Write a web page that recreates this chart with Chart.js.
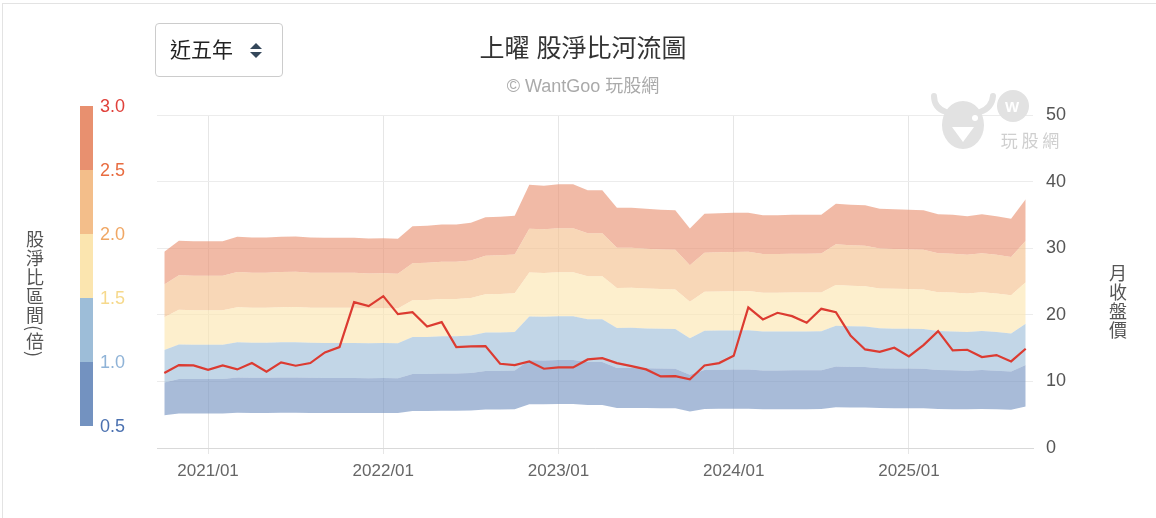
<!DOCTYPE html>
<html>
<head>
<meta charset="utf-8">
<script src="https://cdn.jsdelivr.net/npm/chart.js@4.4.1/dist/chart.umd.min.js"></script>
<style>
  body { margin: 0; background: #fff; font-family: "Liberation Sans", "Noto Sans CJK TC", sans-serif; }
  #wrap { position: relative; width: 1156px; height: 518px; overflow: hidden; }
  #frame { position: absolute; left: 2px; top: 3px; width: 1300px; height: 700px; border: 1px solid #e3e3e3; }
  #chart { position: absolute; left: 0; top: 0; }
  .title { position: absolute; left: 0; width: 1166px; text-align: center; }
  #t1 { top: 33px; font-size: 25px; line-height: 30px; color: #333; }
  #t2 { top: 76px; font-size: 18px; line-height: 20px; color: #aaa; }
  #range { position: absolute; left: 155px; top: 23px; width: 126px; height: 52px; border: 1px solid #ccc; border-radius: 4px; box-sizing: content-box; }
  #range span { position: absolute; left: 14px; top: 13px; font-size: 21px; line-height: 26px; color: #222; }
  .tri { position: absolute; left: 94px; width: 0; height: 0; border-left: 6px solid transparent; border-right: 6px solid transparent; }
  #up { top: 19px; border-bottom: 6px solid #35475a; }
  #down { top: 28px; border-top: 6px solid #35475a; }
  #bar { position: absolute; left: 80px; top: 106px; width: 13px; }
  #bar div { height: 64px; }
  .pbl { position: absolute; left: 100px; font-size: 18px; line-height: 20px; }
  .vlab { position: absolute; writing-mode: vertical-rl; font-size: 18px; color: #555; letter-spacing: 1px; font-family: "Noto Sans CJK TC", sans-serif; }
</style>
</head>
<body>
<div id="wrap">
  <div id="frame"></div>
  <canvas id="chart" width="1156" height="518"></canvas>
  <div class="title" id="t1">上曜 股淨比河流圖</div>
  <div class="title" id="t2">© WantGoo 玩股網</div>
  <div id="range"><span>近五年</span><div class="tri" id="up"></div><div class="tri" id="down"></div></div>
  <div id="bar"></div>
  <div id="legendLabels"></div>
  <div class="vlab" style="left:22px; top:230px;">股淨比區間(倍)</div>
  <div class="vlab" style="left:1105px; top:264px;">月收盤價</div>
</div>
<script>
// 月份 (2020/10 - 2025/09)
var months = [
  '2020/10','2020/11','2020/12',
  '2021/01','2021/02','2021/03','2021/04','2021/05','2021/06','2021/07','2021/08','2021/09','2021/10','2021/11','2021/12',
  '2022/01','2022/02','2022/03','2022/04','2022/05','2022/06','2022/07','2022/08','2022/09','2022/10','2022/11','2022/12',
  '2023/01','2023/02','2023/03','2023/04','2023/05','2023/06','2023/07','2023/08','2023/09','2023/10','2023/11','2023/12',
  '2024/01','2024/02','2024/03','2024/04','2024/05','2024/06','2024/07','2024/08','2024/09','2024/10','2024/11','2024/12',
  '2025/01','2025/02','2025/03','2025/04','2025/05','2025/06','2025/07','2025/08','2025/09'
];

// 月收盤價
var closePrice = [
  11.25, 12.45, 12.4, 11.75, 12.4, 11.8, 12.75, 11.45, 12.85, 12.35,
  12.75, 14.35, 15.15, 21.9, 21.3, 22.8, 20.1, 20.4, 18.25, 18.9,
  15.15, 15.25, 15.3, 12.65, 12.45, 13.0, 11.9, 12.1, 12.1, 13.3,
  13.5, 12.75, 12.3, 11.8, 10.75, 10.8, 10.3, 12.4, 12.75, 13.85,
  21.1, 19.3, 20.3, 19.8, 18.8, 20.9, 20.4, 16.9, 14.8, 14.45,
  15.05, 13.75, 15.45, 17.55, 14.65, 14.75, 13.65, 13.95, 13.0, 14.9
];

// 每股淨值
var bookValue = [
  9.82, 10.37, 10.35, 10.35, 10.35, 10.57, 10.53, 10.53, 10.57, 10.58,
  10.53, 10.52, 10.52, 10.52, 10.48, 10.5, 10.47, 11.1, 11.12, 11.18,
  11.18, 11.27, 11.55, 11.57, 11.62, 13.17, 13.13, 13.2, 13.2, 12.9,
  12.9, 12.02, 12.03, 11.97, 11.93, 11.9, 10.98, 11.73, 11.75, 11.77,
  11.78, 11.65, 11.65, 11.67, 11.67, 11.68, 12.23, 12.18, 12.15, 11.98,
  11.95, 11.93, 11.9, 11.7, 11.67, 11.6, 11.7, 11.6, 11.47, 12.45
];

// 股淨比倍數
var pbLevels = [0.5, 1.0, 1.5, 2.0, 2.5, 3.0];
var pbLabels = ['0.5', '1.0', '1.5', '2.0', '2.5', '3.0'];

var bandColors = ['#7392c0', '#9dbdd8', '#fbe5af', '#f3be8a', '#e8906f'];
var labelColors = ['#4b71b0', '#8fb3d7', '#f6d98c', '#f0a764', '#e86c40', '#e0403a'];
var FONT = '"Liberation Sans", "Noto Sans CJK TC", sans-serif';

function alpha(hex, a) {
  var n = parseInt(hex.slice(1), 16);
  return 'rgba(' + (n >> 16) + ',' + ((n >> 8) & 255) + ',' + (n & 255) + ',' + a + ')';
}

// legend bar on the left
var bar = document.getElementById('bar');
for (var i = bandColors.length - 1; i >= 0; i--) {
  var d = document.createElement('div');
  d.style.background = bandColors[i];
  bar.appendChild(d);
}
var ll = document.getElementById('legendLabels');
pbLabels.forEach(function (t, i) {
  var s = document.createElement('div');
  s.className = 'pbl';
  s.textContent = t;
  s.style.color = labelColors[i];
  s.style.top = (426 - i * 64 - 10) + 'px';
  ll.appendChild(s);
});

var datasets = pbLevels.map(function (m, i) {
  return {
    label: pbLabels[i] + '倍',
    data: bookValue.map(function (b) { return +(b * m).toFixed(2); }),
    borderWidth: 0,
    pointRadius: 0,
    fill: i === 0 ? false : '-1',
    backgroundColor: i === 0 ? 'transparent' : alpha(bandColors[i - 1], 0.62),
    order: 1
  };
});
datasets.push({
  label: '月收盤價',
  data: closePrice,
  borderColor: '#dc3b31',
  borderWidth: 2.2,
  pointRadius: 0,
  fill: false,
  order: 0
});

// faint logo watermark top right
var watermark = {
  id: 'watermark',
  afterDraw: function (chart) {
    var ctx = chart.ctx;
    ctx.save();
    ctx.fillStyle = '#e2e2e2';
    ctx.strokeStyle = '#e2e2e2';
    ctx.lineCap = 'round';
    ctx.lineWidth = 6;
    ctx.beginPath();
    ctx.moveTo(946, 112); ctx.quadraticCurveTo(934, 108, 934, 96);
    ctx.moveTo(980, 112); ctx.quadraticCurveTo(992, 108, 993, 96);
    ctx.stroke();
    ctx.beginPath();
    ctx.ellipse(963, 125, 21, 24, 0, 0, Math.PI * 2);
    ctx.fill();
    ctx.fillStyle = '#fff';
    ctx.beginPath();
    ctx.moveTo(952, 127); ctx.lineTo(974, 127); ctx.lineTo(963, 142); ctx.closePath();
    ctx.fill();
    ctx.beginPath();
    ctx.arc(975, 118, 3, 0, Math.PI * 2);
    ctx.fill();
    ctx.fillStyle = '#e2e2e2';
    ctx.beginPath();
    ctx.arc(1013, 106, 16, 0, Math.PI * 2);
    ctx.fill();
    ctx.fillStyle = '#fff';
    ctx.font = 'bold 15px ' + FONT;
    ctx.textAlign = 'center';
    ctx.textBaseline = 'middle';
    ctx.fillText('W', 1012, 108);
    ctx.fillStyle = '#cfcfcf';
    ctx.font = '17px "Noto Sans CJK TC", sans-serif';
    ctx.fillText('玩 股 網', 1030, 141);
    ctx.restore();
  }
};

new Chart(document.getElementById('chart').getContext('2d'), {
  type: 'line',
  data: { labels: months, datasets: datasets },
  plugins: [watermark],
  options: {
    responsive: false,
    animation: false,
    layout: { padding: { left: 157, top: 115, right: 0, bottom: 0 } },
    plugins: { legend: { display: false }, tooltip: { enabled: false } },
    elements: { line: { tension: 0 } },
    scales: {
      x: {
        offset: true,
        grid: {
          offset: false,
          tickLength: 6,
          color: function (c) { return c.tick && c.tick.label ? '#e6e6e6' : 'rgba(0,0,0,0)'; }
        },
        border: { color: '#d9d9d9' },
        ticks: {
          autoSkip: false,
          maxRotation: 0,
          padding: 7,
          color: '#666',
          font: { size: 17, family: FONT },
          callback: function (v) {
            var l = this.getLabelForValue(v);
            return l.slice(5) === '01' ? l : null;
          }
        },
        afterFit: function (s) { s.height = 70; }
      },
      y: {
        position: 'right',
        min: 0,
        max: 50,
        ticks: { stepSize: 10, padding: 13, color: '#555', font: { size: 18, family: FONT } },
        grid: { color: '#ececec', drawTicks: false },
        border: { display: false },
        afterFit: function (s) { s.width = 123; }
      }
    }
  }
});
</script>
</body>
</html>
